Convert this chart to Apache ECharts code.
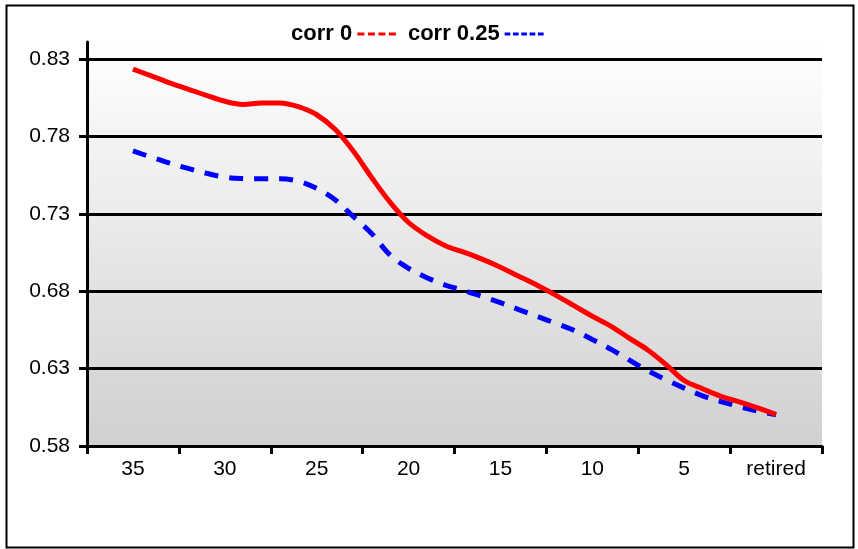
<!DOCTYPE html>
<html>
<head>
<meta charset="utf-8">
<script src="https://cdn.jsdelivr.net/npm/echarts@6/dist/echarts.min.js"></script>
<style>
html,body{margin:0;padding:0;background:#fff;}
#chart{width:858px;height:549px;}
</style>
</head>
<body>
<div id="chart"></div>
<script>
// Years until retirement (0 = retired)
const years = [35,34,33,32,31,30,29,28,27,26,25,24,23,22,21,20,19,18,17,16,15,14,13,12,11,10,9,8,7,6,5,4,3,2,1,0];
const corr0 = [0.8235,0.8191,0.8146,0.8106,0.8065,0.8027,0.8007,0.8016,0.8016,0.7992,0.7940,0.7846,0.7704,0.7533,0.7374,0.7244,0.7159,0.7094,0.7052,0.7007,0.6955,0.6897,0.6838,0.6775,0.6707,0.6638,0.6575,0.6497,0.6422,0.6327,0.6223,0.6170,0.6121,0.6085,0.6046,0.6004];
const corr25 = [0.7706,0.7666,0.7627,0.7593,0.7562,0.7537,0.7528,0.7526,0.7527,0.7511,0.7464,0.7391,0.7281,0.7171,0.7033,0.6948,0.6887,0.6840,0.6805,0.6766,0.6726,0.6681,0.6637,0.6593,0.6547,0.6488,0.6426,0.6356,0.6288,0.6229,0.6174,0.6124,0.6087,0.6055,0.6026,0.6001];
const xLabelYears = [35,30,25,20,15,10,5,0];
const xLabels = ['35','30','25','20','15','10','5','retired'];
const xTickPositions = [37.5,32.5,27.5,22.5,17.5,12.5,7.5,2.5,-2.5];
const yTicks = [0.58,0.63,0.68,0.73,0.78,0.83];
const seriesNames = ['corr 0','corr 0.25'];

const chart = echarts.init(document.getElementById('chart'), null, {renderer:'canvas'});
const FONT = 'Liberation Sans, Arial, sans-serif';
const redDashIcon = 'path://M0,0h7v3h-7zM10.5,0h7v3h-7zM21,0h7v3h-7zM31.5,0h7v3h-7z';
const blueDashIcon = 'path://M0,0h6v3h-6zM8.75,0h6v3h-6zM17.5,0h6v3h-6zM26.25,0h6v3h-6zM35,0h6v3h-6z';
chart.setOption({
  animation:false,
  textStyle:{fontFamily:FONT},
  graphic:[{type:'rect', left:4, top:3, shape:{width:847,height:542}, style:{fill:null, stroke:'#000', lineWidth:2}, silent:true}],
  legend:{
    data:[
      {name:seriesNames[0], icon:redDashIcon, itemStyle:{color:'#ff0000'}},
      {name:seriesNames[1], icon:blueDashIcon, itemStyle:{color:'#0000ff'}}
    ],
    left:286, top:18, align:'right', itemWidth:39, itemHeight:3, itemGap:12,
    textStyle:{fontFamily:FONT, fontWeight:'bold', fontSize:22, color:'#000'}
  },
  grid:{left:87, right:36, top:42, bottom:103, show:true, borderWidth:0,
    backgroundColor:new echarts.graphic.LinearGradient(0,0,0,1,[{offset:0,color:'#ffffff'},{offset:1,color:'#d0d0d0'}])},
  xAxis:{
    type:'value', inverse:true, min:-2.5, max:37.5,
    axisLine:{show:true, onZero:false, lineStyle:{color:'#000', width:3}},
    axisTick:{show:true, length:8, inside:false, lineStyle:{color:'#000', width:3}, customValues:xTickPositions},
    axisLabel:{show:true, margin:13, fontSize:21, color:'#000', fontFamily:FONT, customValues:xLabelYears,
      formatter:function(v){ const i = xLabelYears.indexOf(Math.round(v)); return i>=0 ? xLabels[i] : ''; }},
    splitLine:{show:false}
  },
  yAxis:{
    type:'value', min:0.58, max:0.841,
    axisLine:{show:true, onZero:false, lineStyle:{color:'#000', width:3}},
    axisTick:{show:true, length:8, lineStyle:{color:'#000', width:3}, customValues:yTicks},
    axisLabel:{show:true, margin:17, fontSize:21, color:'#000', fontFamily:FONT, customValues:yTicks,
      formatter:function(v){ return v.toFixed(2); }},
    splitLine:{show:true, lineStyle:{color:'#000', width:3}}
  },
  series:[
    {name:seriesNames[1], type:'line', data:years.map((y,i)=>[y,corr25[i]]), smooth:0.35, symbol:'none',
      lineStyle:{color:'#0000ff', width:5, type:[14,11], cap:'butt'}, itemStyle:{color:'#0000ff'}},
    {name:seriesNames[0], type:'line', data:years.map((y,i)=>[y,corr0[i]]), smooth:0.35, symbol:'none',
      lineStyle:{color:'#ff0000', width:5}, itemStyle:{color:'#ff0000'}}
  ]
});
</script>
</body>
</html>
